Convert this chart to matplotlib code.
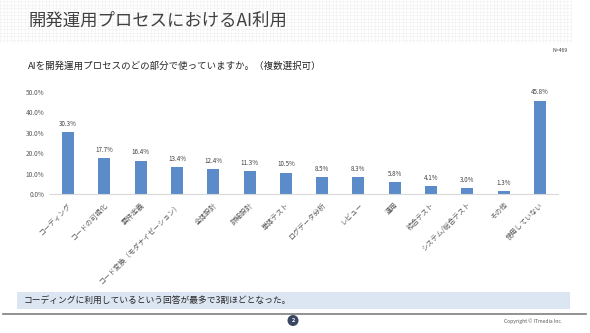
import numpy as np
import matplotlib.pyplot as plt
from matplotlib.patches import Rectangle, Circle
from matplotlib.ticker import PercentFormatter

plt.rcParams['font.family'] = ['Noto Sans CJK JP', 'DejaVu Sans']

# data
categories = ["コーディング", "コードの可視化", "要件定義", "コード変換（モダナイゼーション）",
              "全体設計", "詳細設計", "単体テスト", "ログデータ分析", "レビュー", "運用",
              "結合テスト", "システム/総合テスト", "その他", "使用していない"]
values = [30.3, 17.7, 16.4, 13.4, 12.4, 11.3, 10.5, 8.5, 8.3, 5.8, 4.1, 3.0, 1.3, 45.8]
yticks = [0, 10, 20, 30, 40, 50]

W, H = 590, 333
fig = plt.figure(figsize=(W / 100, H / 100), dpi=100)
fig.patch.set_facecolor("white")

# header grid band
hdr = fig.add_axes([0, (H - 43) / H, 572 / W, 43 / H])
hdr.set_xlim(0, 572)
hdr.set_ylim(0, 43)
for x in np.arange(0, 572, 3.5):
    hdr.axvline(x, color="#efefef", lw=0.4)
for y in np.arange(0, 43, 3.5):
    hdr.axhline(y, color="#efefef", lw=0.4)
hdr.axis("off")

fig.text(28 / W, 1 - 21 / H, "開発運用プロセスにおけるAI利用", fontsize=12.5,
         color="#404040", va="center", ha="left")
fig.text(28 / W, 1 - 66 / H, "AIを開発運用プロセスのどの部分で使っていますか。（複数選択可）",
         fontsize=6.8, color="#262626", va="center", ha="left")
fig.text(568 / W, 1 - 50 / H, "N=469", fontsize=3.8, color="#404040", va="center", ha="right")

# chart
ax = fig.add_axes([50 / W, (H - 194) / H, 508 / W, 102 / H])
x = np.arange(len(categories))
bars = ax.bar(x, values, width=0.33, color="#5b8bc9")
for xi, v in zip(x, values):
    ax.text(xi, v + 2.0, f"{v:.1f}%", ha="center", va="bottom", fontsize=4.5, color="#404040")
ax.set_xlim(-0.5, len(categories) - 0.5)
ax.set_ylim(0, 50)
ax.set_yticks(yticks)
ax.yaxis.set_major_formatter(PercentFormatter(decimals=1))
ax.set_xticks(x)
ax.set_xticklabels(categories, rotation=45, ha="right", rotation_mode="anchor",
                   fontsize=5, color="#595959")
ax.tick_params(axis="y", length=0, labelsize=4.7, labelcolor="#595959", pad=4)
ax.tick_params(axis="x", length=0, pad=5)
for s in ["top", "right", "left"]:
    ax.spines[s].set_visible(False)
ax.spines["bottom"].set_color("#d9d9d9")
ax.spines["bottom"].set_linewidth(0.8)
ax.patch.set_alpha(0)

# bottom note
ov = fig.add_axes([0, 0, 1, 1])
ov.set_xlim(0, W)
ov.set_ylim(H, 0)
ov.axis("off")
ov.add_patch(Rectangle((17, 292), 553, 17, facecolor="#dce6f2", edgecolor="none"))
ov.text(24, 300.5, "コーディングに利用しているという回答が最多で3割ほどとなった。",
        fontsize=6.3, color="#262626", va="center", ha="left")
ov.plot([3, 586], [313.5, 313.5], color="#7f7f7f", lw=1.2)
ov.add_patch(Circle((293, 320.5), 5.5, facecolor="#3b4663", edgecolor="none"))
ov.text(293, 320.5, "2", fontsize=4, color="white", ha="center", va="center", fontweight="bold")
ov.text(533, 321, "Copyright © ITmedia Inc.", fontsize=3.6, color="#595959",
        ha="center", va="center")

fig.savefig("out.png", dpi=100)
